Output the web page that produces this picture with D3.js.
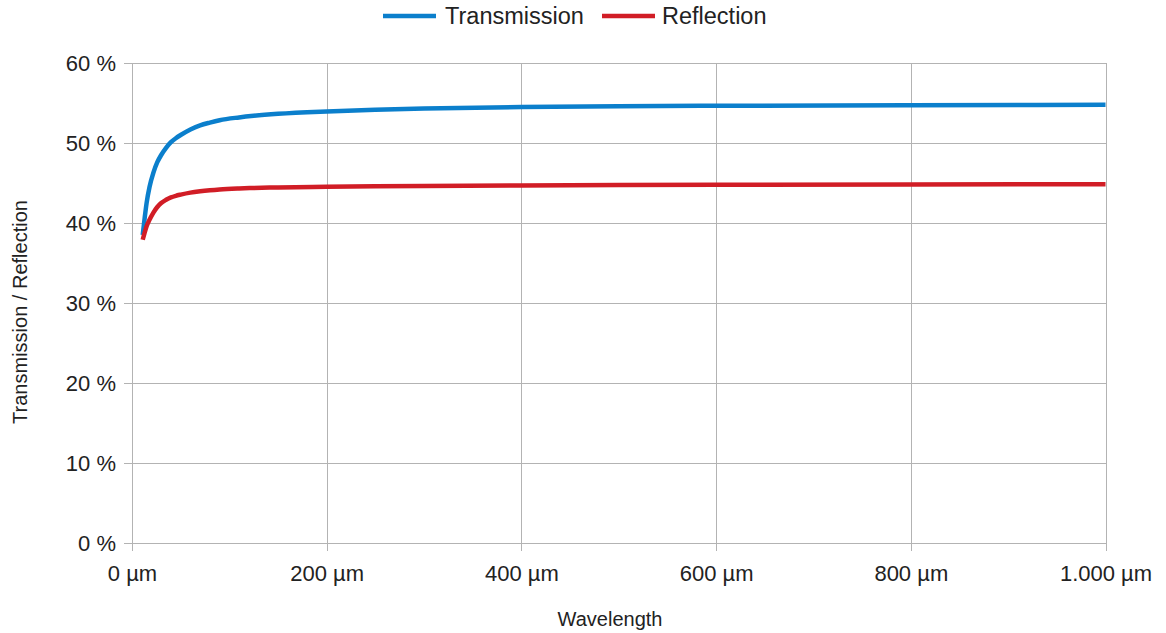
<!DOCTYPE html>
<html>
<head>
<meta charset="utf-8">
<script src="https://cdn.jsdelivr.net/npm/d3@7"></script>
<style>
  body { margin: 0; background: #fff; }
  svg text { font-family: "Liberation Sans", Arial, sans-serif; fill: #222; }
</style>
</head>
<body>
<svg id="chart" width="1166" height="633"></svg>
<script>
'use strict';

// wavelength in µm
var wavelengths = [11, 13, 15, 18, 22, 26, 30, 35, 40, 45, 50, 60, 70, 80, 90, 110, 125, 150, 200, 250, 300, 400, 500, 600, 800, 1000];
// percent values
var transmission = [38.5, 40.6, 42.5, 44.5, 46.3, 47.6, 48.5, 49.4, 50.1, 50.6, 51.0, 51.7, 52.2, 52.55, 52.85, 53.2, 53.4, 53.65, 53.95, 54.15, 54.3, 54.5, 54.6, 54.65, 54.72, 54.78];
var reflection = [37.9, 38.8, 39.6, 40.4, 41.3, 42.0, 42.5, 42.9, 43.2, 43.4, 43.55, 43.8, 43.97, 44.1, 44.2, 44.32, 44.38, 44.45, 44.52, 44.58, 44.63, 44.7, 44.75, 44.78, 44.82, 44.85];
var seriesNames = ["Transmission", "Reflection"];
var seriesColors = ["#0b7fcc", "#d11d26"];
var xTicks = [0, 200, 400, 600, 800, 1000];
var yTicks = [0, 10, 20, 30, 40, 50, 60];

var svg = d3.select("#chart");
var plotLeft = 132, plotRight = 1105.5, plotTop = 63, plotBottom = 543;

var x = d3.scaleLinear().domain([0, 1000]).range([plotLeft, plotRight]);
var y = d3.scaleLinear().domain([0, 60]).range([plotBottom, plotTop]);

var fmtX = function(d) { return d === 1000 ? "1.000 µm" : d + " µm"; };
var fmtY = function(d) { return d + " %"; };

// grid
var grid = svg.append("g").attr("stroke", "#b3b3b3").attr("stroke-width", 1).attr("shape-rendering", "crispEdges");
grid.selectAll(".gx").data(xTicks).enter().append("line")
    .attr("x1", function(d) { return Math.round(x(d)) + 0.5; })
    .attr("x2", function(d) { return Math.round(x(d)) + 0.5; })
    .attr("y1", plotTop).attr("y2", plotBottom + 8);
grid.selectAll(".gy").data(yTicks).enter().append("line")
    .attr("y1", function(d) { return Math.round(y(d)) + 0.5; })
    .attr("y2", function(d) { return Math.round(y(d)) + 0.5; })
    .attr("x1", plotLeft - 8).attr("x2", plotRight);

// axes labels
var yAxis = d3.axisLeft(y).tickValues(yTicks).tickFormat(fmtY).tickSize(0).tickPadding(16);
var gy = svg.append("g").attr("transform", "translate(" + plotLeft + ",0)").call(yAxis);
gy.select(".domain").remove();
gy.selectAll("text").attr("font-size", 22).style("font-family", "Liberation Sans, Arial, sans-serif").attr("fill", "#222");

var xAxis = d3.axisBottom(x).tickValues(xTicks).tickFormat(fmtX).tickSize(0).tickPadding(22);
var gx = svg.append("g").attr("transform", "translate(0," + plotBottom + ")").call(xAxis);
gx.select(".domain").remove();
gx.selectAll("text").attr("font-size", 22).style("font-family", "Liberation Sans, Arial, sans-serif").attr("fill", "#222");

// axis titles
svg.append("text").attr("x", 610).attr("y", 626).attr("text-anchor", "middle")
    .attr("font-size", 20).text("Wavelength");
svg.append("text").attr("transform", "translate(27,312) rotate(-90)").attr("text-anchor", "middle")
    .attr("font-size", 20).text("Transmission / Reflection");

// lines
var series = [transmission, reflection];
var line = d3.line()
    .x(function(d, i) { return x(wavelengths[i]); })
    .y(function(d) { return y(d); })
    .curve(d3.curveMonotoneX);

svg.selectAll(".series").data(series).enter().append("path")
    .attr("d", line)
    .attr("fill", "none")
    .attr("stroke", function(d, i) { return seriesColors[i]; })
    .attr("stroke-width", 4.5)
    .attr("stroke-linejoin", "round");

// legend
var legendPos = [{ lx: 383, tx: 445 }, { lx: 602, tx: 662 }];
var lg = svg.selectAll(".legend").data(seriesNames).enter().append("g");
lg.append("line")
    .attr("x1", function(d, i) { return legendPos[i].lx; })
    .attr("x2", function(d, i) { return legendPos[i].lx + 53; })
    .attr("y1", 16).attr("y2", 16)
    .attr("stroke", function(d, i) { return seriesColors[i]; })
    .attr("stroke-width", 4.5);
lg.append("text")
    .attr("x", function(d, i) { return legendPos[i].tx; })
    .attr("y", 24)
    .attr("font-size", 23.5)
    .text(function(d) { return d; });
</script>
</body>
</html>
